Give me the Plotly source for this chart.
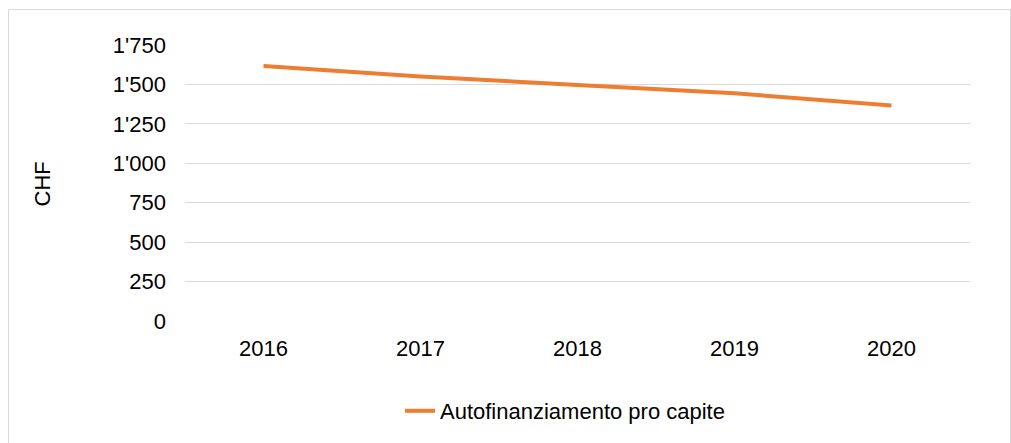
import plotly.graph_objects as go

years = ["2016", "2017", "2018", "2019", "2020"]
values = [1617, 1551, 1497, 1444, 1366]
series_name = "Autofinanziamento pro capite"
y_tickvals = [0, 250, 500, 750, 1000, 1250, 1500, 1750]
y_ticktext = ["0", "250", "500", "750", "1'000", "1'250", "1'500", "1'750"]
y_title = "CHF"

W, H = 1011, 443
L, T = 185, 45
R = W - 970
B = H - 322
pw, ph = W - L - R, H - T - B

def px(x):  # page pixel -> paper coord
    return (x - L) / pw

def py(y):
    return (H - B - y) / ph

FONT = "Liberation Sans, Arial, sans-serif"
FS = 22
GRID = "#D9D9D9"

fig = go.Figure()
fig.add_trace(go.Scatter(
    x=years, y=values, mode="lines", name=series_name,
    line=dict(color="#ED7D31", width=4),
))

fig.update_layout(
    width=W, height=H,
    margin=dict(l=L, r=R, t=T, b=B),
    paper_bgcolor="white", plot_bgcolor="white",
    font=dict(family=FONT, size=FS, color="#000000"),
    showlegend=True,
    legend=dict(orientation="h", x=px(400), xanchor="left", y=py(411), yanchor="middle",
                font=dict(family=FONT, size=FS, color="#000000"), bgcolor="rgba(0,0,0,0)"),
    xaxis=dict(type="category", range=[-0.5, 4.5], showgrid=False, zeroline=False,
               showline=False, ticks="", ticklabelstandoff=12),
    yaxis=dict(range=[0, 1750], tickvals=y_tickvals, ticktext=y_ticktext,
               showgrid=True, gridcolor=GRID, gridwidth=1, zeroline=False,
               showline=False, ticks="", ticklabelstandoff=18),
)

fig.add_annotation(text=y_title, xref="paper", yref="paper", x=px(42), y=py(185),
                   textangle=-90, showarrow=False, font=dict(family=FONT, size=FS),
                   xanchor="center", yanchor="middle")

fig.add_shape(type="rect", xref="paper", yref="paper",
              x0=px(8.5), x1=px(1010.5), y0=py(470), y1=py(9.5),
              line=dict(color=GRID, width=1), layer="below")

fig.write_html(
    "out.html",
    config={"displayModeBar": False},
    post_script="document.body.style.margin='0';document.body.style.overflow='hidden';",
)
